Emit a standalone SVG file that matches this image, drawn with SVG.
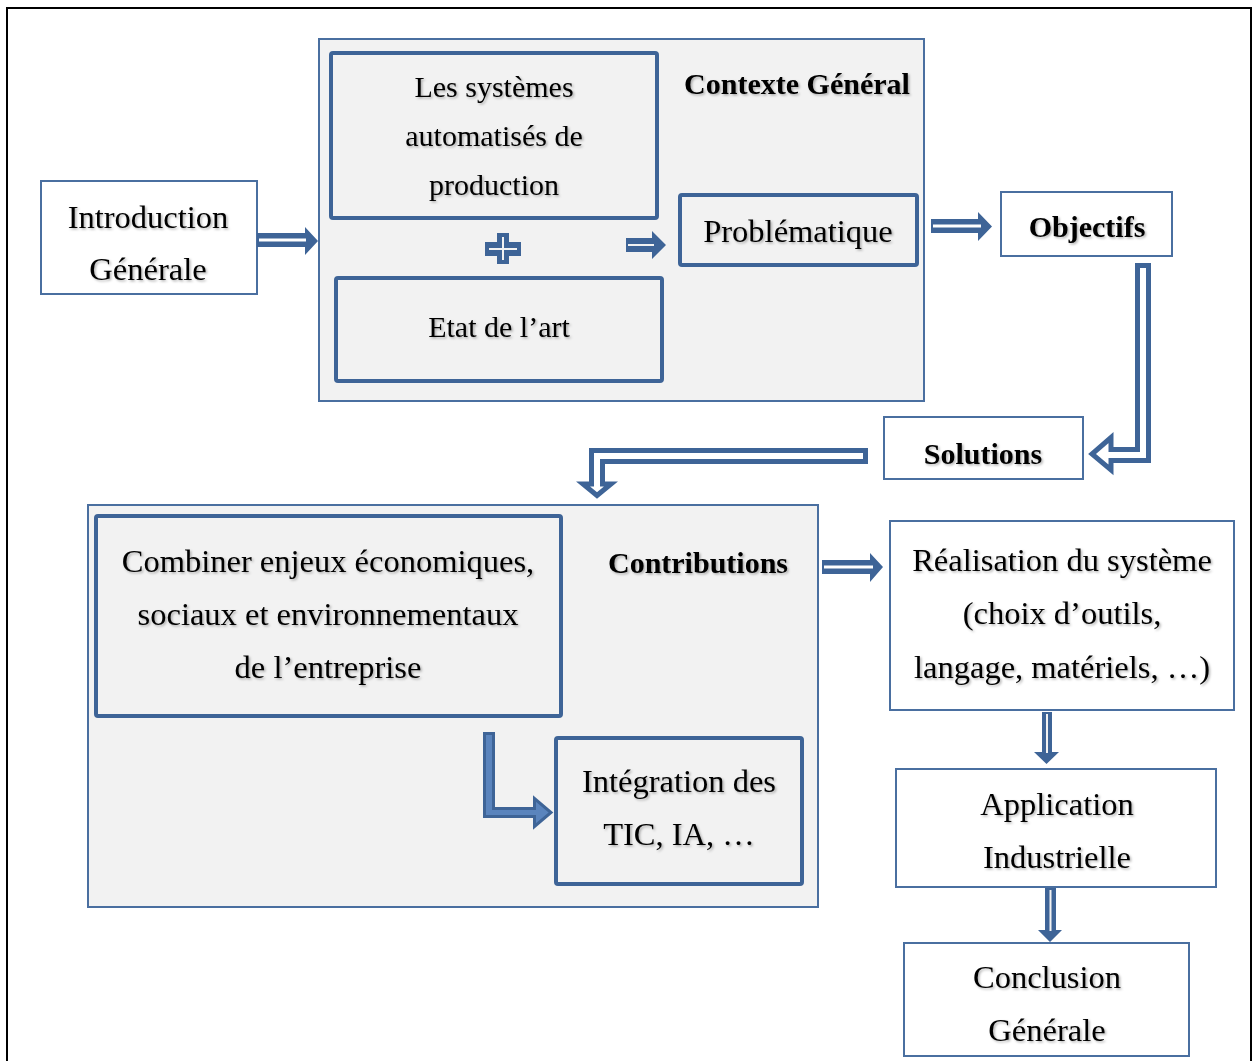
<svg xmlns="http://www.w3.org/2000/svg" width="1255" height="1061" viewBox="0 0 1255 1061">
<defs>
<filter id="sh" x="-10%" y="-30%" width="120%" height="160%">
<feDropShadow dx="1.5" dy="1.5" stdDeviation="1" flood-color="#000" flood-opacity="0.3"/>
</filter>
<style>
.frame{fill:#fff;stroke:#000;stroke-width:2}
.box{fill:#fff;stroke:#4a6fa0;stroke-width:2}
.grp{fill:#f2f2f2;stroke:#4a6fa0;stroke-width:2}
.inner{fill:#f2f2f2;stroke:#3e6497;stroke-width:4}
.solid{fill:#3e6497;stroke:none}
.wl{stroke:#fff;stroke-width:3;fill:none}
.wl2{stroke:#f2f2f2;stroke-width:2;fill:none}
.arr{fill:#fff;stroke:#3e6497;stroke-width:5;stroke-linejoin:miter;stroke-miterlimit:10}
.arrb{fill:#5a84bd;stroke:#3e6497;stroke-width:3;stroke-linejoin:miter;stroke-miterlimit:10}
text{font-family:"Liberation Serif","Times New Roman",serif;fill:#000;text-anchor:middle;filter:url(#sh)}
.t{font-size:32.5px}
.s{font-size:30px}
.b{font-size:30px;font-weight:bold}
</style>
</defs>
<rect class="frame" x="7" y="8" width="1244" height="1070"/>

<g id="introduction">
<rect class="box" x="41" y="181" width="216" height="113"/>
<text class="t" x="148" y="228">Introduction</text>
<text class="t" x="148" y="280">Générale</text>
</g>

<g id="contexte">
<rect class="grp" x="319" y="39" width="605" height="362"/>
<text class="b" x="797" y="94">Contexte Général</text>
</g>
<g id="systemes">
<rect class="inner" x="331" y="53" width="326" height="165" rx="2"/>
<text class="s" x="494" y="97">Les systèmes</text>
<text class="s" x="494" y="146">automatisés de</text>
<text class="s" x="494" y="195">production</text>
</g>
<g id="plus">
<polygon class="solid" points="497,233 509,233 509,242 521,242 521,256 509,256 509,264 497,264 497,256 485,256 485,242 497,242"/>
<path class="wl2" d="M503,237 V260 M489,249 H517"/>
</g>
<g id="etat">
<rect class="inner" x="336" y="278" width="326" height="103" rx="2"/>
<text class="s" x="499" y="337">Etat de l’art</text>
</g>
<g id="problematique">
<rect class="inner" x="680" y="195" width="237" height="70" rx="2"/>
<text class="t" x="798" y="242">Problématique</text>
</g>

<g id="objectifs">
<rect class="box" x="1001" y="192" width="171" height="64"/>
<text class="b" x="1087" y="237">Objectifs</text>
</g>

<g id="solutions">
<rect class="box" x="884" y="417" width="199" height="62"/>
<text class="b" x="983" y="464">Solutions</text>
</g>

<g id="contributions">
<rect class="grp" x="88" y="505" width="730" height="402"/>
<text class="b" x="698" y="573">Contributions</text>
</g>
<g id="combiner">
<rect class="inner" x="96" y="516" width="465" height="200" rx="2"/>
<text class="t" x="328" y="572">Combiner enjeux économiques,</text>
<text class="t" x="328" y="625">sociaux et environnementaux</text>
<text class="t" x="328" y="678">de l’entreprise</text>
</g>
<g id="integration">
<rect class="inner" x="556" y="738" width="246" height="146" rx="2"/>
<text class="t" x="679" y="792">Intégration des</text>
<text class="t" x="679" y="845">TIC, IA, …</text>
</g>

<g id="realisation">
<rect class="box" x="890" y="521" width="344" height="189"/>
<text class="t" x="1062" y="571">Réalisation du système</text>
<text class="t" x="1062" y="624">(choix d’outils,</text>
<text class="t" x="1062" y="678">langage, matériels, …)</text>
</g>

<g id="application">
<rect class="box" x="896" y="769" width="320" height="118"/>
<text class="t" x="1057" y="815">Application</text>
<text class="t" x="1057" y="868">Industrielle</text>
</g>

<g id="conclusion">
<rect class="box" x="904" y="943" width="285" height="113"/>
<text class="t" x="1047" y="988">Conclusion</text>
<text class="t" x="1047" y="1041">Générale</text>
</g>

<g id="connectors">
<!-- Introduction -> Contexte -->
<polygon class="solid" points="257,233 305,233 305,227 318,241 305,255 305,247 257,247"/>
<path class="wl" d="M259,240 H306"/>
<!-- systemes+etat -> Problematique -->
<polygon class="solid" points="626,238 652,238 652,231 666,245 652,259 652,252 626,252"/>
<path class="wl2" d="M628,245 H654"/>
<!-- Contexte -> Objectifs -->
<polygon class="solid" points="931,219 978,219 978,212 992,226.5 978,241 978,233 931,233"/>
<path class="wl" d="M933,226 H981"/>
<!-- Objectifs -> Solutions -->
<polygon class="arr" points="1137.5,265.5 1148.5,265.5 1148.5,460.5 1111,460.5 1111,470 1092,454 1111,437.5 1111,449.5 1137.5,449.5"/>
<!-- Solutions -> Contributions -->
<polygon class="arr" points="865.5,450.5 865.5,461.5 602.5,461.5 602.5,484 611,484 597,495.5 583,484 591.5,484 591.5,450.5"/>
<!-- Combiner -> Integration -->
<polygon class="arrb" points="484.5,733.5 493.5,733.5 493.5,808.5 534.5,808.5 534.5,798.5 551,812.5 534.5,826.5 534.5,816.5 484.5,816.5"/>
<!-- Contributions -> Realisation -->
<polygon class="solid" points="822,560 870,560 870,553 883,567 870,582 870,574 822,574"/>
<path class="wl" d="M824,567 H873"/>
<!-- Realisation -> Application -->
<polygon class="solid" points="1042,712 1052,712 1052,752 1059,752 1046.5,764 1034,752 1042,752"/>
<path class="wl2" d="M1047,714 V753"/>
<!-- Application -> Conclusion -->
<polygon class="solid" points="1045,888 1056,888 1056,930 1062,930 1050,942 1038,930 1045,930"/>
<path class="wl2" d="M1050.5,890 V931"/>
</g>
</svg>
